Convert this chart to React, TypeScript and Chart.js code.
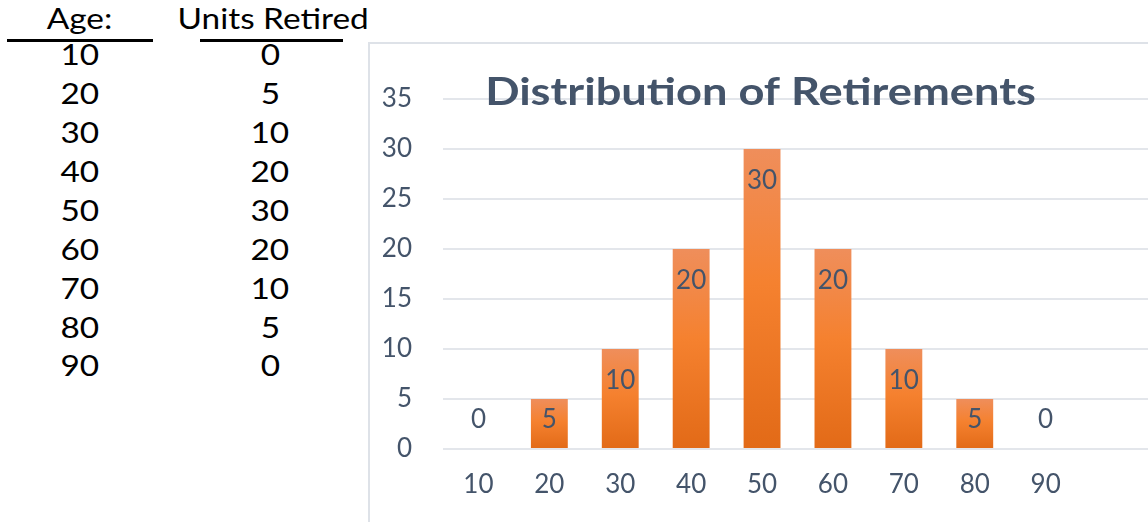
import React, { useEffect, useRef } from "react";
import { Chart, registerables } from "chart.js";

Chart.register(...registerables);

// Worksheet table
const tableHeaders = ["Age:", "Units Retired"];
const ages = ["10", "20", "30", "40", "50", "60", "70", "80", "90"];
const unitsRetired = [0, 5, 10, 20, 30, 20, 10, 5, 0];

// Chart source range includes one trailing empty row
const chartCategories = [...ages, ""];
const chartValues: (number | null)[] = [...unitsRetired, null];

const chartTitle = "Distribution of Retirements";
const yMin = 0;
const yMax = 35;
const yStep = 5;

const TEXT = "#44546A";
const GRID = "#E3E6EB";
const FONT = "Lato, 'Open Sans', sans-serif";

// Title sits over the plot area, so it is painted after the chart
const overlayTitle = {
  id: "overlayTitle",
  afterDraw(chart: Chart) {
    const ctx = chart.ctx;
    ctx.save();
    ctx.font = `bold 38px ${FONT}`;
    ctx.fillStyle = TEXT;
    ctx.textAlign = "center";
    ctx.textBaseline = "middle";
    ctx.translate(chart.width / 2, 50);
    ctx.scale(1.19, 1);
    ctx.fillText(chartTitle, 0, 0);
    ctx.restore();
  },
};

// Value labels at the inside end of each bar
const insideEndLabels = {
  id: "insideEndLabels",
  afterDatasetsDraw(chart: Chart) {
    const ctx = chart.ctx;
    const meta = chart.getDatasetMeta(0);
    const yScale = chart.scales.y;
    const base = yScale.getPixelForValue(0);
    ctx.save();
    ctx.font = `26px ${FONT}`;
    ctx.fillStyle = TEXT;
    ctx.textAlign = "center";
    ctx.textBaseline = "middle";
    meta.data.forEach((el: any, i: number) => {
      const v = chartValues[i];
      if (v === null || v === undefined) return;
      const top = yScale.getPixelForValue(v);
      const y = Math.min(top + 32, base - 29);
      ctx.fillText(String(v), el.x, y);
    });
    ctx.restore();
  },
};

function barFill(c: any) {
  const chart = c.chart;
  const area = chart.chartArea;
  if (!area || c.type !== "data" || c.raw == null) return "#F2802F";
  const y = chart.scales.y;
  const top = y.getPixelForValue(c.raw);
  const bottom = y.getPixelForValue(0);
  if (bottom - top < 1) return "#F2802F";
  const g = chart.ctx.createLinearGradient(0, top, 0, bottom);
  g.addColorStop(0, "#EF8E5B");
  g.addColorStop(0.45, "#F5812F");
  g.addColorStop(1, "#E26A17");
  return g;
}

function RetirementChart() {
  const ref = useRef<HTMLCanvasElement | null>(null);

  useEffect(() => {
    if (!ref.current) return;
    const chart = new Chart(ref.current, {
      type: "bar",
      data: {
        labels: chartCategories,
        datasets: [
          {
            label: "Units Retired",
            data: chartValues,
            backgroundColor: barFill,
            borderWidth: 0,
            barPercentage: 0.52,
            categoryPercentage: 1,
          },
        ],
      },
      options: {
        responsive: false,
        animation: false,
        devicePixelRatio: 1,
        layout: { padding: { top: 56, left: 0, right: 0, bottom: 0 } },
        plugins: {
          legend: { display: false },
          title: { display: false },
          tooltip: { enabled: false },
        },
        scales: {
          x: {
            grid: { display: false, drawTicks: false },
            border: { display: false },
            ticks: {
              color: TEXT,
              font: { family: FONT, size: 26 },
              padding: 20,
              maxRotation: 0,
              autoSkip: false,
            },
            afterFit(scale: any) {
              scale.height = 74;
            },
          },
          y: {
            min: yMin,
            max: yMax,
            grid: { color: GRID, lineWidth: 2, drawTicks: false },
            border: { display: false },
            ticks: {
              stepSize: yStep,
              color: TEXT,
              font: { family: FONT, size: 26 },
              padding: 31,
            },
            afterFit(scale: any) {
              scale.width = 74;
            },
          },
        },
      },
      plugins: [insideEndLabels, overlayTitle],
    });
    return () => chart.destroy();
  }, []);

  return (
    <canvas
      ref={ref}
      width={783}
      height={480}
      style={{ position: "absolute", left: 369, top: 43, width: 783, height: 480 }}
    />
  );
}

const ROW_H = 38.9;
const ROW0_TOP = 35.2;

function Cell({ text, center, top }: { text: string; center: number; top: number }) {
  return (
    <div
      style={{
        position: "absolute",
        left: center - 120,
        width: 240,
        top,
        height: ROW_H,
        lineHeight: `${ROW_H}px`,
        textAlign: "center",
        whiteSpace: "nowrap",
      }}
    >
      <span style={{ display: "inline-block", transform: "scaleX(1.15)" }}>{text}</span>
    </div>
  );
}

export default function App() {
  return (
    <div
      style={{
        position: "fixed",
        left: 0,
        top: 0,
        width: 1148,
        height: 522,
        overflow: "hidden",
        background: "#FFFFFF",
        fontFamily: FONT,
        fontSize: 29,
        color: "#000000",
      }}
    >
      <Cell text={tableHeaders[0]} center={80} top={-1} />
      <Cell text={tableHeaders[1]} center={273} top={-1} />
      <div style={{ position: "absolute", left: 7, top: 39, width: 146, height: 2.5, background: "#000" }} />
      <div style={{ position: "absolute", left: 200, top: 39, width: 143, height: 2.5, background: "#000" }} />
      {ages.map((a, i) => (
        <Cell key={"a" + i} text={a} center={80} top={ROW0_TOP + i * ROW_H} />
      ))}
      {unitsRetired.map((u, i) => (
        <Cell key={"u" + i} text={String(u)} center={270} top={ROW0_TOP + i * ROW_H} />
      ))}
      <div
        style={{
          position: "absolute",
          left: 368,
          top: 42,
          width: 900,
          height: 600,
          border: "2px solid #DEE2E8",
          boxSizing: "border-box",
        }}
      />
      <RetirementChart />
    </div>
  );
}
